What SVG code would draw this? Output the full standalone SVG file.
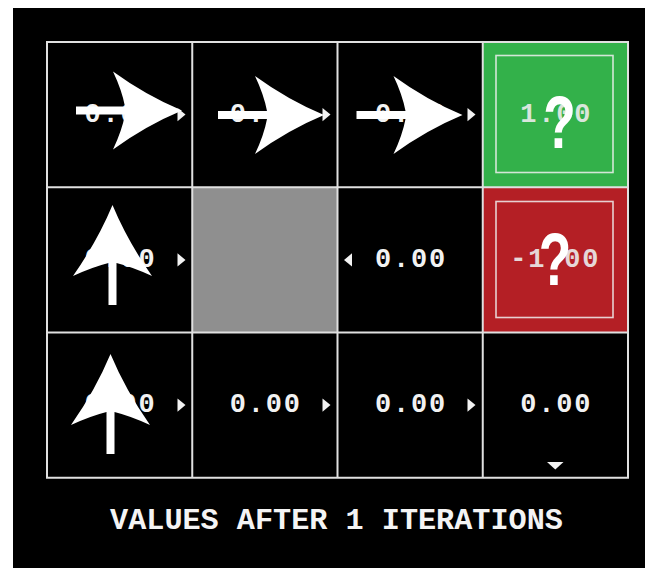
<svg xmlns="http://www.w3.org/2000/svg" xmlns:xlink="http://www.w3.org/1999/xlink" width="649" height="572" viewBox="0 0 649 572">
  <style>
    .cell { fill: #000000; }
    .grid { fill: none; stroke: #e0e0e0; stroke-width: 2; }
    .val { font-family: "Liberation Mono", "Courier New", monospace; font-weight: bold; font-size: 27px; letter-spacing: 1.8px; fill: #f2f2f2; text-anchor: middle; }
    .tval { fill: #ececec; opacity: 0.9; }
    .tri { fill: #f2f2f2; }
    .inner { fill: none; stroke: #f0f0f0; stroke-width: 1.6; opacity: 0.85; }
    .q { font-family: "Liberation Sans", Arial, sans-serif; font-weight: bold; font-size: 74px; fill: #ffffff; text-anchor: middle; }
    .title { font-family: "Liberation Mono", "Courier New", monospace; font-weight: bold; font-size: 30.2px; fill: #f4f4f4; text-anchor: middle; }
    .big { fill: #ffffff; }
  </style>
  <defs>
    <path id="arrowR" d="M0 0 Q-36 -15 -69 -39 Q-60 -20 -57 -4 L-106 -4 L-106 4 L-57 4 Q-60 20 -69 39 Q-36 15 0 0 Z"/>
    <path id="arrowU" d="M0 0 Q-36 -15 -71 -39.5 Q-62 -20 -58 -4 L-100 -4 L-100 4 L-58 4 Q-62 20 -71 39.5 Q-36 15 0 0 Z"/>
  </defs>

  <rect x="0" y="0" width="649" height="572" fill="#ffffff"/>
  <rect x="13" y="8" width="632" height="560" fill="#000000"/>

  <!-- Row 1 -->
  <g id="cell-0-0">
    <rect class="cell" x="47" y="42" width="145.25" height="145.25"/>
    <text class="val" x="120.5" y="121.6">0.00</text>
    <polygon class="tri" points="177.5,108 185.5,114.6 177.5,121.2"/>
  </g>
  <g id="cell-0-1">
    <rect class="cell" x="192.25" y="42" width="145.25" height="145.25"/>
    <text class="val" x="265.8" y="121.6">0.00</text>
    <polygon class="tri" points="322.5,108 330.5,114.6 322.5,121.2"/>
  </g>
  <g id="cell-0-2">
    <rect class="cell" x="337.5" y="42" width="145.25" height="145.25"/>
    <text class="val" x="411" y="121.6">0.00</text>
    <polygon class="tri" points="467.5,108 475.5,114.6 467.5,121.2"/>
  </g>
  <g id="cell-0-3">
    <rect x="482.75" y="42" width="145.25" height="145.25" fill="#33b14a"/>
    <rect class="inner" x="496" y="55.5" width="117" height="117"/>
    <text class="val tval" x="556.3" y="121.6">1.00</text>
    <text class="q" transform="translate(559.5,148) scale(0.72,1)">?</text>
  </g>

  <!-- Row 2 -->
  <g id="cell-1-0">
    <rect class="cell" x="47" y="187.25" width="145.25" height="145.25"/>
    <text class="val" x="120.5" y="266.9">0.00</text>
    <polygon class="tri" points="177.5,253.3 185.5,259.9 177.5,266.5"/>
  </g>
  <g id="cell-1-1">
    <rect x="192.25" y="187.25" width="145.25" height="145.25" fill="#8f8f8f"/>
  </g>
  <g id="cell-1-2">
    <rect class="cell" x="337.5" y="187.25" width="145.25" height="145.25"/>
    <text class="val" x="411" y="266.9">0.00</text>
    <polygon class="tri" points="352,253.3 344,259.9 352,266.5"/>
  </g>
  <g id="cell-1-3">
    <rect x="482.75" y="187.25" width="145.25" height="145.25" fill="#b41f25"/>
    <rect class="inner" x="496" y="201.5" width="117" height="116"/>
    <text class="val tval" x="555.3" y="266.9">-1.00</text>
    <text class="q" transform="translate(555,285) scale(0.72,1)">?</text>
  </g>

  <!-- Row 3 -->
  <g id="cell-2-0">
    <rect class="cell" x="47" y="332.5" width="145.25" height="145.25"/>
    <text class="val" x="120.5" y="412.1">0.00</text>
    <polygon class="tri" points="177.5,398.5 185.5,405.1 177.5,411.7"/>
  </g>
  <g id="cell-2-1">
    <rect class="cell" x="192.25" y="332.5" width="145.25" height="145.25"/>
    <text class="val" x="265.8" y="412.1">0.00</text>
    <polygon class="tri" points="322.5,398.5 330.5,405.1 322.5,411.7"/>
  </g>
  <g id="cell-2-2">
    <rect class="cell" x="337.5" y="332.5" width="145.25" height="145.25"/>
    <text class="val" x="411" y="412.1">0.00</text>
    <polygon class="tri" points="467.5,398.5 475.5,405.1 467.5,411.7"/>
  </g>
  <g id="cell-2-3">
    <rect class="cell" x="482.75" y="332.5" width="145.25" height="145.25"/>
    <text class="val" x="556.3" y="412.1">0.00</text>
    <polygon class="tri" points="547,462 563.5,462 555.3,469.5"/>
  </g>

  <!-- Grid lines -->
  <g id="grid">
    <rect class="grid" x="47" y="42" width="581" height="435.75"/>
    <line class="grid" x1="192.25" y1="42" x2="192.25" y2="477.75"/>
    <line class="grid" x1="337.5" y1="42" x2="337.5" y2="477.75"/>
    <line class="grid" x1="482.75" y1="42" x2="482.75" y2="477.75"/>
    <line class="grid" x1="47" y1="187.25" x2="628" y2="187.25"/>
    <line class="grid" x1="47" y1="332.5" x2="628" y2="332.5"/>
  </g>

  <!-- Policy arrows -->
  <g id="connectors">
    <use href="#arrowR" xlink:href="#arrowR" class="big" transform="translate(182,110.5)"/>
    <use href="#arrowR" xlink:href="#arrowR" class="big" transform="translate(324,115)"/>
    <use href="#arrowR" xlink:href="#arrowR" class="big" transform="translate(462.5,115)"/>
    <use href="#arrowU" xlink:href="#arrowU" class="big" transform="translate(112.5,205) rotate(-90)"/>
    <use href="#arrowU" xlink:href="#arrowU" class="big" transform="translate(110.5,354) rotate(-90)"/>
  </g>

  <g id="title">
    <text class="title" x="336.5" y="529">VALUES AFTER 1 ITERATIONS</text>
  </g>
</svg>
